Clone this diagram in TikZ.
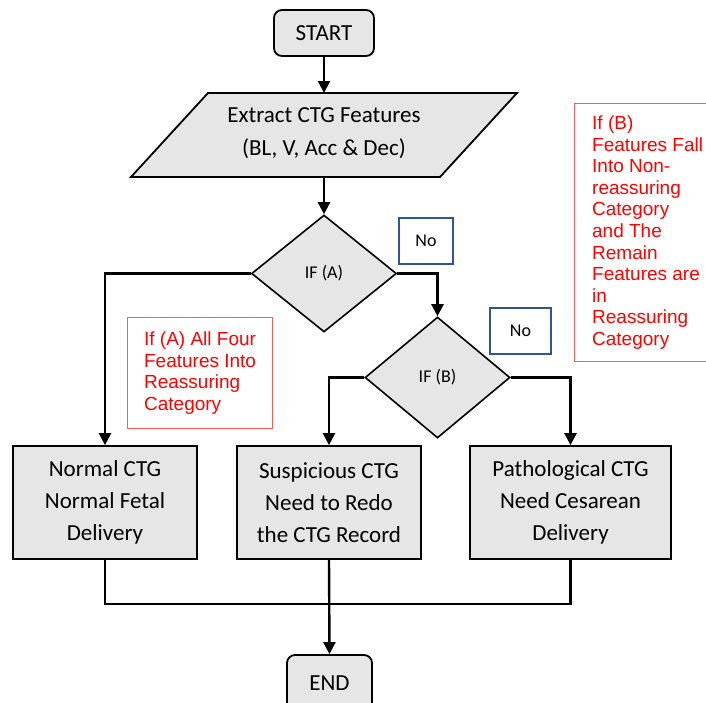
\documentclass[tikz,border=0pt]{standalone}
\usepackage{fontspec}
\setmainfont{Carlito}
\newfontfamily\arialf{Liberation Sans}
\usetikzlibrary{shapes.geometric,arrows.meta,calc}
\definecolor{boxgray}{HTML}{E6E6E6}
\definecolor{noblue}{HTML}{2F5597}
\definecolor{notered}{HTML}{FF0000}
\definecolor{noteborder}{HTML}{FF5A5A}
\begin{document}
\begin{tikzpicture}[x=1pt,y=-1pt,
  term/.style={draw=black, line width=1.8pt, fill=boxgray, rounded corners=8pt, inner sep=0pt,
    font=\fontsize{23}{28}\selectfont},
  procbox/.style={draw=black, line width=1.8pt, fill=boxgray, inner sep=0pt, align=center,
    minimum height=113pt, font=\fontsize{23}{32}\selectfont},
  decision/.style={diamond, draw=black, line width=1.6pt, fill=boxgray, inner sep=0pt,
    font=\fontsize{18}{22}\selectfont},
  nobox/.style={draw=noblue, line width=1.5pt, inner sep=0pt, minimum height=46pt,
    font=\fontsize{18}{22}\selectfont},
  note/.style={draw=noteborder, line width=1.2pt, text=notered, align=left, anchor=north west,
    inner sep=0pt, font=\arialf\fontsize{19}{21.6}\selectfont},
  arr/.style={line width=2.4pt, -{Triangle[length=12pt,width=12pt]}},
  conn/.style={line width=2.4pt}
]
\useasboundingbox (0,0) rectangle (706,702);

% START
\node[term, minimum width=100pt, minimum height=46pt] (start) at (324,33) {START};

% parallelogram
\coordinate (p1) at (208,93);
\coordinate (p2) at (517,93);
\coordinate (p3) at (440,177);
\coordinate (p4) at (131,177);
\coordinate (extTop) at (324,93);
\coordinate (extBot) at (324,177);
\draw[line width=1.8pt, fill=boxgray] (p1) -- (p2) -- (p3) -- (p4) -- cycle;
\node[align=center, font=\fontsize{23}{33}\selectfont] (ext) at (324,133) {Extract CTG Features\\(BL, V, Acc \& Dec)};

% decisions
\node[decision, minimum width=145pt, minimum height=117pt] (ifA) at (324,273.5) {IF (A)};
\node[decision, minimum width=145pt, minimum height=121pt] (ifB) at (437.5,377.5) {IF (B)};

% No boxes
\node[nobox, minimum width=54pt] (noA) at (426,241) {No};
\node[nobox, minimum width=61pt] (noB) at (520.5,331) {No};

% notes
\node[note, minimum width=145pt, minimum height=111pt] (noteA) at (127,317)
  {If (A) All Four\\Features Into\\Reassuring\\Category};
\node[note, minimum width=146pt, minimum height=258pt] (noteB) at (574,103)
  {If (B)\\Features Fall\\Into Non-\\reassuring\\Category\\and The\\Remain\\Features are\\in\\Reassuring\\Category};

% outcome boxes
\node[procbox, minimum width=184pt] (normal) at (105,502.5) {Normal CTG\\Normal Fetal\\Delivery};
\node[procbox, minimum width=184pt] (susp) at (329,502.5) {Suspicious CTG\\Need to Redo\\the CTG Record};
\node[procbox, minimum width=201pt] (patho) at (570.5,502.5) {Pathological CTG\\Need Cesarean\\Delivery};

% END
\node[term, minimum width=85pt, minimum height=56pt] (endn) at (329.5,683) {END};

% connectors
\draw[arr] (start.south) -- (extTop);
\draw[arr] (extBot) -- (ifA.north);
\draw[arr] (ifA.east) -| (ifB.north);
\draw[arr] (ifA.west) -| (normal.north);
\draw[arr] (ifB.west) -| (susp.north);
\draw[arr] (ifB.east) -| (patho.north);
\coordinate (joinL) at ($(normal.south)+(0,44)$);
\draw[conn] (normal.south) -- (joinL) -| (patho.south);
\draw[arr] (susp.south) -- (endn.north);
\end{tikzpicture}
\end{document}
